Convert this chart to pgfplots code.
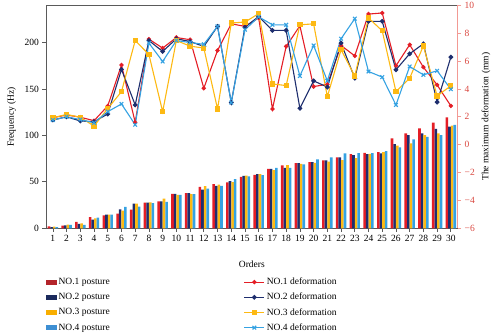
\documentclass[border=0pt]{standalone}
\usepackage{fontspec}
\setmainfont{Liberation Serif}
\usepackage{pgfplots}
\usepackage{pgfplotstable}
\pgfplotsset{compat=1.18}
\definecolor{cRed}{HTML}{E41E26}
\definecolor{cNavy}{HTML}{1E2E6E}
\definecolor{cYel}{HTML}{FDB913}
\definecolor{cLBlue}{HTML}{35A2E2}
\definecolor{lRed}{HTML}{B3242A}
\definecolor{lNavy}{HTML}{1B2A5C}
\definecolor{lYel}{HTML}{F8AE00}
\definecolor{lLBlue}{HTML}{3E8FD3}
\definecolor{axGray}{HTML}{5A5A5A}
\definecolor{rAx}{HTML}{F29A94}
\definecolor{rLab}{HTML}{D9473F}

\pgfplotsset{
  linelegend/.style={legend image code/.code={\draw[##1,mark repeat=2,mark phase=2] plot coordinates {(0pt,0pt)(10pt,0pt)(20pt,0pt)};}},
  barlegend/.style={legend image code/.code={\fill[#1] (0pt,-2pt) rectangle (10pt,2pt);}},
}

\pgfplotstableread{
x f1 f2 f3 f4 d1 d2 d3 d4
1 2.0 1.3 1.8 1.2 1.93 1.77 1.93 1.77
2 2.9 3.2 4.0 3.6 2.13 2.00 2.17 2.00
3 6.8 4.8 5.2 3.8 1.97 1.70 1.97 1.80
4 11.9 9.4 10.8 11.5 1.72 1.65 1.33 1.57
5 14.0 14.7 14.7 14.7 2.78 2.20 2.60 2.37
6 15.8 20.5 19.1 23.0 5.71 5.40 3.80 2.92
7 20.1 26.6 26.6 23.4 1.60 2.85 7.47 1.43
8 27.7 27.7 28.0 27.0 7.57 7.47 6.47 7.29
9 29.1 29.1 32.0 28.4 6.93 6.69 2.37 5.97
10 37.0 37.0 36.0 36.0 7.69 7.60 7.47 7.47
11 37.8 37.8 36.7 36.7 7.53 7.40 7.07 7.33
12 44.6 41.7 45.3 42.8 4.05 7.05 6.93 7.20
13 47.5 45.7 47.1 45.7 6.76 8.49 2.56 8.49
14 49.3 50.7 49.7 52.9 8.67 3.02 8.73 3.02
15 55.4 56.5 56.8 55.8 8.49 8.43 8.80 8.25
16 57.5 58.3 58.3 57.2 9.09 9.20 9.40 9.17
17 64.0 64.0 62.6 65.1 2.56 8.20 4.36 8.60
18 67.6 65.1 68.0 65.1 7.05 8.20 4.24 8.60
19 70.2 70.2 69.4 68.7 8.53 2.61 8.60 4.93
20 71.2 71.2 70.5 74.1 4.17 4.58 8.67 7.12
21 73.2 73.2 71.8 76.3 4.33 4.13 3.45 4.58
22 76.3 76.3 73.4 80.6 7.12 7.29 6.81 7.60
23 79.9 78.8 75.6 81.0 6.37 4.77 4.93 9.04
24 81.3 79.9 80.2 81.0 9.37 8.85 9.09 5.25
25 82.0 80.6 82.0 83.1 9.45 8.85 8.17 4.85
26 96.8 90.7 88.9 87.1 5.66 5.37 3.81 2.85
27 102.2 100.4 91.4 95.7 7.17 6.52 4.77 5.61
28 107.6 102.2 100.4 98.5 5.56 7.24 7.09 5.01
29 113.7 106.9 102.2 100.4 4.29 3.05 3.50 5.30
30 119.5 109.3 110.4 111.2 2.78 6.28 4.22 3.98
}\data

\begin{document}
\begin{tikzpicture}[font=\fontsize{9.5}{11}\selectfont]
\path[use as bounding box] (0,0) rectangle (500pt,332pt);
\begin{axis}[
  at={(46pt,103.7pt)}, anchor=south west,
  width=411.7pt, height=223pt, scale only axis,
  xmin=0.5, xmax=30.5, ymin=0, ymax=240,
  xtick={1,...,30}, ytick={0,50,100,150,200},
  xtick pos=bottom, ytick pos=left, tick align=outside,
  major tick length=3.5pt,
  axis line style={axGray, line width=0.8pt},
  tick style={axGray, line width=0.7pt},
  /pgf/number format/assume math mode=true,
  ticklabel style={font=\fontsize{9.5}{11}\selectfont},
  xlabel={Orders}, ylabel={Frequency (Hz)},
  xlabel style={yshift=-12pt},
  ylabel style={yshift=2pt},
  ybar=0pt, bar width=0.19,
]
\addplot[draw=none, fill=cRed, bar shift=-0.285] table[x=x,y=f1]{\data};
\addplot[draw=none, fill=cNavy, bar shift=-0.095] table[x=x,y=f2]{\data};
\addplot[draw=none, fill=cYel, bar shift=0.095] table[x=x,y=f3]{\data};
\addplot[draw=none, fill=cLBlue, bar shift=0.285] table[x=x,y=f4]{\data};
\end{axis}
\begin{axis}[
  at={(46pt,103.7pt)}, anchor=south west,
  width=411.7pt, height=223pt, scale only axis,
  xmin=0.5, xmax=30.5, ymin=-6, ymax=10,
  axis y line*=right, axis x line=none,
  ytick={-6,-4,...,10},
  yticklabels={−6,−4,−2,0,2,4,6,8,10},
  tick align=outside, major tick length=3.5pt,
  y axis line style={rAx, line width=0.8pt},
  ytick style={rAx, line width=0.7pt},
  yticklabel style={rLab, font=\fontsize{9.5}{11}\selectfont},
  ylabel={The maximum deformation (mm)},
  legend columns=2,
  legend cell align=left,
  legend style={at={(0,-0.213)}, anchor=north west, draw=none, fill=none,
    inner sep=0pt, font=\fontsize{9.5}{11}\selectfont,
    /tikz/every even column/.append style={column sep=132pt},
    row sep=3pt},
]
\addlegendimage{barlegend=lRed}
\addlegendentry{NO.1 posture}
\addplot[cRed, line width=1.1pt, mark=*, mark size=1.6pt, linelegend]
  table[x=x,y=d1]{\data};
\addlegendentry{NO.1 deformation}
\addlegendimage{barlegend=lNavy}
\addlegendentry{NO.2 posture}
\addplot[cNavy, line width=1.1pt, mark=*, mark size=1.8pt, linelegend]
  table[x=x,y=d2]{\data};
\addlegendentry{NO.2 deformation}
\addlegendimage{barlegend=lYel}
\addlegendentry{NO.3 posture}
\addplot[cYel, line width=1.1pt, mark=square*, mark size=2.1pt, linelegend]
  table[x=x,y=d3]{\data};
\addlegendentry{NO.3 deformation}
\addlegendimage{barlegend=lLBlue}
\addlegendentry{NO.4 posture}
\addplot[cLBlue, line width=1.1pt, mark=x, mark size=2.6pt,
  mark options={line width=1.1pt}, linelegend]
  table[x=x,y=d4]{\data};
\addlegendentry{NO.4 deformation}
\end{axis}
\end{tikzpicture}
\end{document}
